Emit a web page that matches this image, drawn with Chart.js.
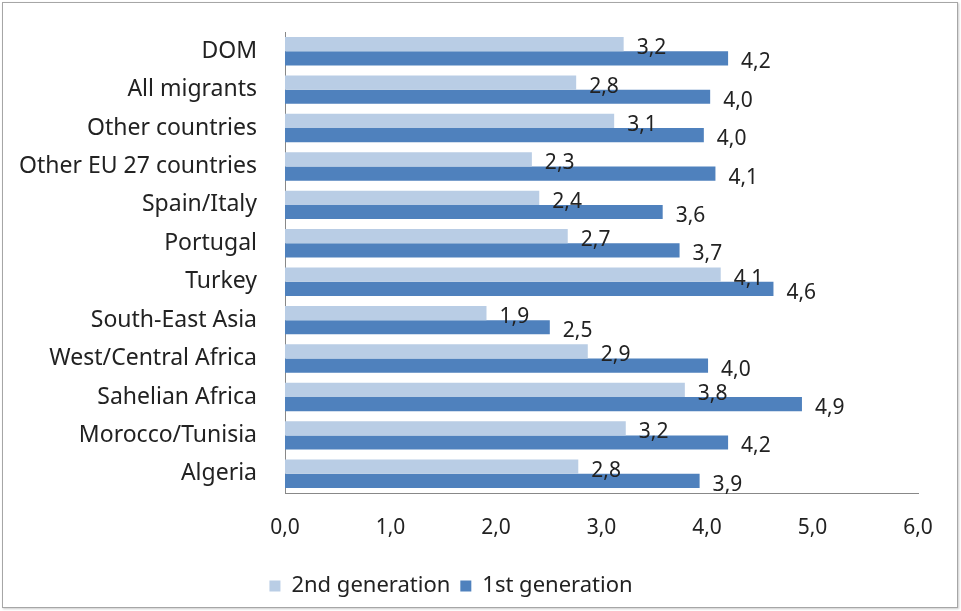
<!DOCTYPE html>
<html>
<head>
<meta charset="utf-8">
<script src="https://cdn.jsdelivr.net/npm/chart.js@4/dist/chart.umd.min.js"></script>
<style>
  html, body { margin: 0; padding: 0; background: #fff; }
  #wrap { position: relative; width: 961px; height: 611px; }
  #frame { position: absolute; left: 2px; top: 2px; width: 954px; height: 604px;
           border: 1px solid #a6a6a6; box-shadow: 1px 1px 2px #ccc; pointer-events: none; }
</style>
</head>
<body>
<div id="wrap">
  <canvas id="chart" width="961" height="611"></canvas>
  <div id="frame"></div>
</div>
<script>
// categories, top to bottom
const categories = [
  'DOM', 'All migrants', 'Other countries', 'Other EU 27 countries',
  'Spain/Italy', 'Portugal', 'Turkey', 'South-East Asia',
  'West/Central Africa', 'Sahelian Africa', 'Morocco/Tunisia', 'Algeria'
];
// bar lengths, labels show them rounded to one decimal
const secondGen = [3.21, 2.76, 3.12, 2.34, 2.41, 2.68, 4.13, 1.91, 2.87, 3.79, 3.23, 2.78];
const firstGen  = [4.20, 4.03, 3.97, 4.08, 3.58, 3.74, 4.63, 2.51, 4.01, 4.90, 4.20, 3.93];
const xTicks = [0, 1, 2, 3, 4, 5, 6];

const FONT = "'Noto Sans', 'DejaVu Sans', sans-serif";
const TEXT = '#222';
const fmt = (v) => v.toFixed(1).replace('.', ',');

// value labels just past the end of each bar
const barLabels = {
  id: 'barLabels',
  afterDatasetsDraw(chart) {
    const ctx = chart.ctx;
    ctx.save();
    ctx.font = '21px ' + FONT;
    ctx.fillStyle = TEXT;
    ctx.textAlign = 'left';
    ctx.textBaseline = 'middle';
    chart.data.datasets.forEach((ds, i) => {
      chart.getDatasetMeta(i).data.forEach((bar, j) => {
        ctx.fillText(fmt(ds.data[j]), bar.x + 13, bar.y + 4);
      });
    });
    ctx.restore();
  }
};

// nudge the legend left, the original sits off-centre
const legendShift = {
  id: 'legendShift',
  afterLayout(chart) {
    if (chart.legend) {
      chart.legend.left -= 13;
      chart.legend.right -= 13;
    }
  }
};

new Chart(document.getElementById('chart'), {
  type: 'bar',
  data: {
    labels: categories,
    datasets: [
      { label: '2nd generation', data: secondGen, backgroundColor: '#b9cde5' },
      { label: '1st generation', data: firstGen, backgroundColor: '#4f81bd' }
    ]
  },
  plugins: [barLabels, legendShift],
  options: {
    indexAxis: 'y',
    responsive: false,
    animation: false,
    datasets: { bar: { categoryPercentage: 0.74, barPercentage: 1 } },
    layout: { padding: { top: 32, left: 10, right: 43, bottom: 4 } },
    plugins: {
      tooltip: { enabled: false },
      legend: {
        position: 'bottom',
        labels: {
          boxWidth: 11, boxHeight: 11, padding: 10,
          color: TEXT, font: { family: FONT, size: 22 }
        }
      }
    },
    scales: {
      x: {
        min: 0, max: 6,
        afterBuildTicks: (s) => { s.ticks = xTicks.map(v => ({ value: v })); },
        afterFit: (s) => { s.height = 72; },
        grid: { display: false, drawTicks: false },
        border: { display: true, color: '#888' },
        ticks: { padding: 22, color: TEXT, font: { family: FONT, size: 21 }, callback: (v) => fmt(v) }
      },
      y: {
        afterFit: (s) => { s.width = 275; s.paddingTop = 0; s.paddingBottom = 0; },
        grid: { display: false, drawTicks: false },
        border: { display: true, color: '#888' },
        ticks: { padding: 28, color: TEXT, font: { family: FONT, size: 23 } }
      }
    }
  }
});
</script>
</body>
</html>
